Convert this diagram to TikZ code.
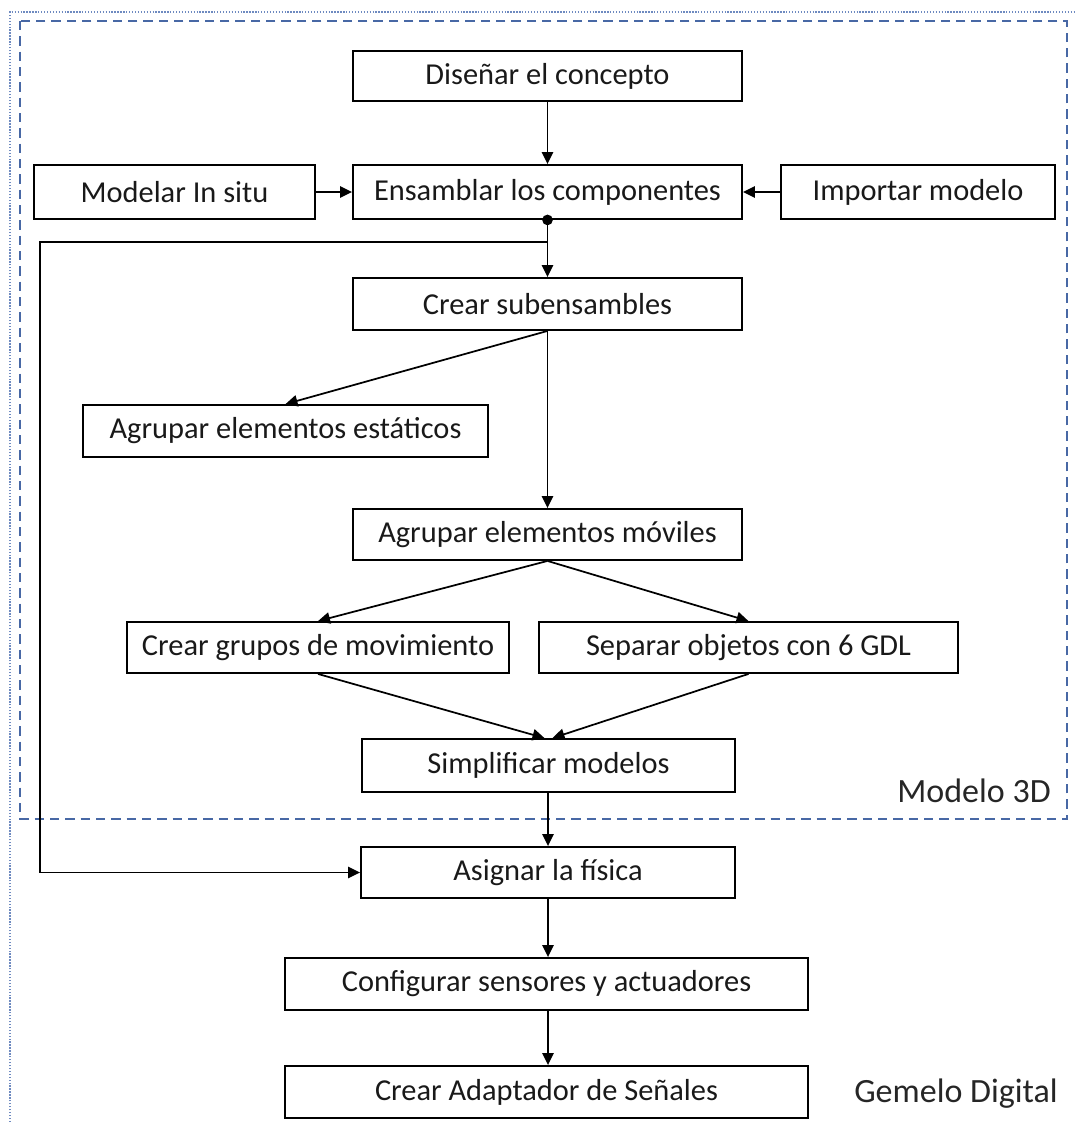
\documentclass[tikz,border=0pt]{standalone}
\usepackage{fontspec}
\setmainfont{Carlito}
\usetikzlibrary{arrows.meta}
\definecolor{frameblue}{RGB}{72,104,165}
\definecolor{dotblue}{RGB}{110,138,192}
\def\unitpx{0.75pt}
\begin{document}
\begin{tikzpicture}[x=0.75pt,y=-0.75pt,
  stepbox/.style={draw=black, line width=1.4pt, inner sep=0pt,
    font=\fontsize{22.8}{27}\selectfont, text=black!90},
  conn/.style={line width=1.3pt, -{Triangle[length=9pt,width=8.5pt]}},
  grouplabel/.style={font=\fontsize{25.5}{30}\selectfont, text=black!85,
    inner sep=0pt, anchor=base east},
  outerframe/.style={draw=dotblue, line width=1.2pt, dash pattern=on 1pt off 1.2pt},
  innerframe/.style={draw=frameblue, line width=1.5pt, dash pattern=on 7pt off 4.5pt}]
\useasboundingbox (0,0) rectangle (1075,1122);

% group frames
\draw[outerframe] (10,1122) -- (10,12) -- (1075,12);
\draw[innerframe] (20,21) rectangle (1067,819);

% process steps
\node[stepbox, minimum width=389*\unitpx, minimum height=50*\unitpx] (dis) at (547.5,76) {Diseñar el concepto};
\node[stepbox, minimum width=389*\unitpx, minimum height=54*\unitpx] (ens) at (547.5,192) {Ensamblar los componentes};
\node[stepbox, minimum width=281*\unitpx, minimum height=54*\unitpx] (mod) at (174.5,192) {Modelar In situ};
\node[stepbox, minimum width=274*\unitpx, minimum height=54*\unitpx] (imp) at (918,192) {Importar modelo};
\node[stepbox, minimum width=389*\unitpx, minimum height=52*\unitpx] (sub) at (547.5,304) {Crear subensambles};
\node[stepbox, minimum width=405*\unitpx, minimum height=52*\unitpx] (est) at (285.5,431) {Agrupar elementos estáticos};
\node[stepbox, minimum width=389*\unitpx, minimum height=51*\unitpx] (mov) at (547.5,534.5) {Agrupar elementos móviles};
\node[stepbox, minimum width=382*\unitpx, minimum height=51*\unitpx] (gru) at (318,647.5) {Crear grupos de movimiento};
\node[stepbox, minimum width=419*\unitpx, minimum height=51*\unitpx] (sep) at (748.5,647.5) {Separar objetos con 6 GDL};
\node[stepbox, minimum width=373*\unitpx, minimum height=53*\unitpx] (sim) at (548.5,765.5) {Simplificar modelos};
\node[stepbox, minimum width=374*\unitpx, minimum height=51*\unitpx] (fis) at (548,872.5) {Asignar la física};
\node[stepbox, minimum width=523*\unitpx, minimum height=52*\unitpx] (cfg) at (546.5,984) {Configurar sensores y actuadores};
\node[stepbox, minimum width=523*\unitpx, minimum height=52*\unitpx] (ada) at (546.5,1092) {Crear Adaptador de Señales};

% group labels
\node[grouplabel] (lbl3d) at (1051,802) {Modelo 3D};
\node[grouplabel] (lblgd) at (1058,1102) {Gemelo Digital};

% connectors
\draw[conn] (dis.south) -- (ens.north);
\draw[conn] (mod.east) -- (ens.west);
\draw[conn] (imp.west) -- (ens.east);
\draw[conn] (ens.south) -- (sub.north);
\coordinate (jn) at (547.5,242);
\coordinate (lc) at (40,242);
\draw[conn] (ens.south) -- (jn) -- (lc) |- (fis.west);
\fill (ens.south) circle (4pt);
\draw[conn] (sub.south) -- (est.north);
\draw[conn] (sub.south) -- (mov.north);
\draw[conn] (mov.south) -- (gru.north);
\draw[conn] (mov.south) -- (sep.north);
\draw[conn] (gru.south) -- ([xshift=-3pt]sim.north);
\draw[conn] (sep.south) -- ([xshift=3pt]sim.north);
\draw[conn] (sim.south -| fis.north) -- (fis.north);
\draw[conn] (fis.south) -- (fis.south |- cfg.north);
\draw[conn] (fis.south |- cfg.south) -- (fis.south |- ada.north);
\end{tikzpicture}
\end{document}
